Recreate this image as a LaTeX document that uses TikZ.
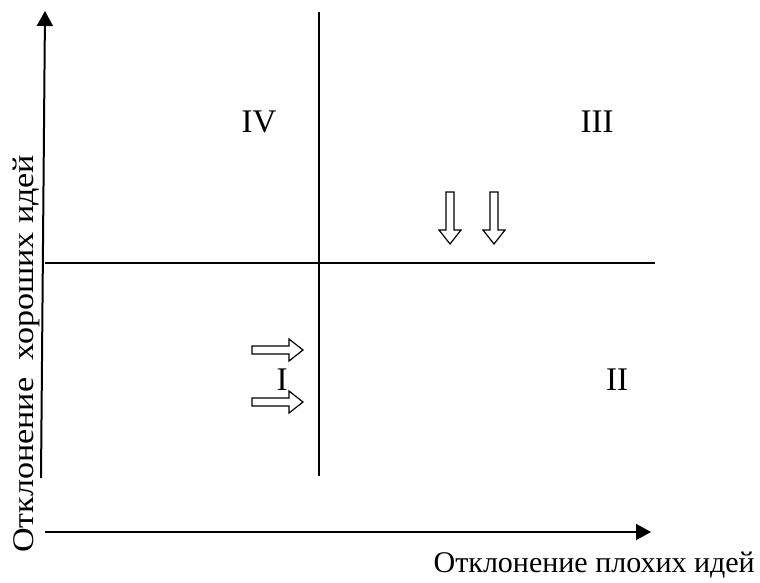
\documentclass[tikz,border=0pt]{standalone}
\usepackage{fontspec}
\usepackage{graphicx}
\setmainfont{Liberation Serif}
\usetikzlibrary{arrows.meta}
\tikzset{
  axisline/.style={line width=2pt,-{Triangle[width=16pt,length=15pt]}},
  divline/.style={line width=2pt},
  blockarrow/.style={draw=black,line width=1.2pt,fill=white,line join=miter},
  quad/.style={font=\fontsize{33}{36}\selectfont,inner sep=0pt},
  axlabel/.style={font=\fontsize{30}{34}\selectfont,inner sep=0pt}
}
\begin{document}
\begin{tikzpicture}[x=1pt,y=-1pt]
\useasboundingbox (0,0) rectangle (760,582);
% axes
\coordinate (yb) at (41,478);
\coordinate (yt) at (45,11);
\coordinate (xb) at (45,532);
\coordinate (xt) at (651,532);
\draw[axisline] (yb) -- (yt);
\draw[axisline] (xb) -- (xt);
% dividing lines
\coordinate (hl) at (45,263);
\coordinate (hr) at (655,263);
\coordinate (vt) at (319,12);
\coordinate (vb) at (319,476);
\draw[divline] (hl) -- (hr);
\draw[divline] (vt) -- (vb);
% quadrant labels
\node[quad] (q4) at (259,122) {IV};
\node[quad] (q3) at (597,122) {III};
\node[quad] (q1) at (282,380) {I};
\node[quad] (q2) at (617,380) {II};
% right block arrows
\foreach \yy in {350,402}{
  \draw[blockarrow] (252,\yy-4) -- (289,\yy-4) -- (289,\yy-11) -- (303,\yy) -- (289,\yy+11) -- (289,\yy+4) -- (252,\yy+4) -- cycle;
}
% down block arrows
\foreach \xx in {450,494}{
  \draw[blockarrow] (\xx-4,192) -- (\xx-4,230) -- (\xx-11,230) -- (\xx,244) -- (\xx+11,230) -- (\xx+4,230) -- (\xx+4,192) -- cycle;
}
% axis labels
\node[axlabel,anchor=base east] (lx) at (755,572) {Отклонение плохих идей};
\node[axlabel,rotate=90,anchor=base west] (ly) at (33,553) {\resizebox{398pt}{\height}{Отклонение\ \ хороших идей}};
\end{tikzpicture}
\end{document}
